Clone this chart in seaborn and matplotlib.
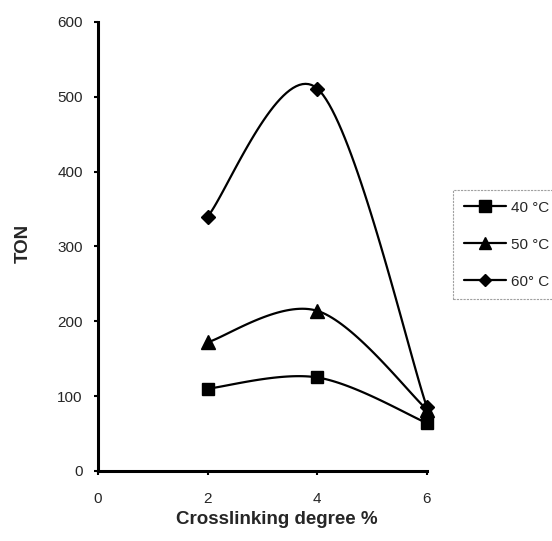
import numpy as np
import pandas as pd
import matplotlib
matplotlib.use("Agg")
import matplotlib.pyplot as plt
import seaborn as sns
from matplotlib.lines import Line2D

sns.set_style("white")
plt.rcParams['font.family'] = ['Liberation Sans', 'DejaVu Sans']

crosslinking = [2, 4, 6]
ton_40 = [110, 125, 64]
ton_50 = [172, 214, 82]
ton_60 = [340, 511, 85]
series_labels = ["40 \u00b0C", "50 \u00b0C", "60\u00b0 C"]
x_ticks = [0, 2, 4, 6]
y_ticks = [0, 100, 200, 300, 400, 500, 600]


def smooth(xs, ys, n=40):
    # Catmull-Rom style smoothing of the connecting line (Excel "smoothed line")
    P = np.column_stack([xs, ys]).astype(float)
    pts = np.vstack([P[0], P, P[-1]])
    out = []
    for i in range(1, len(pts) - 2):
        p0, p1, p2, p3 = pts[i - 1], pts[i], pts[i + 1], pts[i + 2]
        c1 = p1 + (p2 - p0) / 6.0
        c2 = p2 - (p3 - p1) / 6.0
        t = np.linspace(0, 1, n)[:, None]
        seg = ((1 - t) ** 3) * p1 + 3 * ((1 - t) ** 2) * t * c1 + 3 * (1 - t) * t ** 2 * c2 + t ** 3 * p2
        out.append(seg if i == 1 else seg[1:])
    s = np.vstack(out)
    return s[:, 0], s[:, 1]


fig = plt.figure(figsize=(5.52, 5.41), dpi=100)
ax = fig.add_axes([0.1775, 0.1294, 0.596, 0.830])

markers = ["s", "^", "D"]
msizes = [9, 10, 7.5]
handles = []
for ys, lab, mk, ms in zip([ton_40, ton_50, ton_60], series_labels, markers, msizes):
    sx, sy = smooth(crosslinking, ys)
    df = pd.DataFrame({"x": sx, "y": sy})
    sns.lineplot(data=df, x="x", y="y", sort=False, estimator=None, ax=ax,
                 color="black", linewidth=1.6)
    ax.plot(crosslinking, ys, linestyle="none", marker=mk, markersize=ms,
            color="black", clip_on=False)
    handles.append(Line2D([0], [0], color="black", linewidth=1.6, marker=mk,
                          markersize=ms - 1, label=lab))

ax.set_xlim(0, 6)
ax.set_ylim(0, 600)
ax.set_xticks(x_ticks)
ax.set_yticks(y_ticks)
ax.tick_params(axis="both", labelsize=11, length=3, width=1.5, direction="out",
               color="black")
ax.tick_params(axis="y", left=True, pad=8)
ax.tick_params(axis="x", bottom=True, pad=12)
for side in ["top", "right"]:
    ax.spines[side].set_visible(False)
for side in ["left", "bottom"]:
    ax.spines[side].set_linewidth(2.2)
    ax.spines[side].set_color("black")

ax.set_xlabel("")
ax.set_ylabel("")
fig.text(277 / 552, 1 - 520 / 541, "Crosslinking degree %", fontsize=13.5,
         fontweight="bold", ha="center", va="center")
fig.text(23 / 552, 1 - 243 / 541, "TON", fontsize=13.5, fontweight="bold",
         ha="center", va="center", rotation=90)

leg = fig.legend(handles=handles, loc="upper left", bbox_to_anchor=(453 / 552, 1 - 190 / 541),
                 frameon=True, fontsize=11, handlelength=2.8, handletextpad=0.3,
                 labelspacing=1.5, borderpad=0.7, fancybox=False, borderaxespad=0)
leg.get_frame().set_edgecolor("#888888")
leg.get_frame().set_linestyle((0, (2, 1)))
leg.get_frame().set_linewidth(0.8)

fig.savefig("out.png", dpi=100)
